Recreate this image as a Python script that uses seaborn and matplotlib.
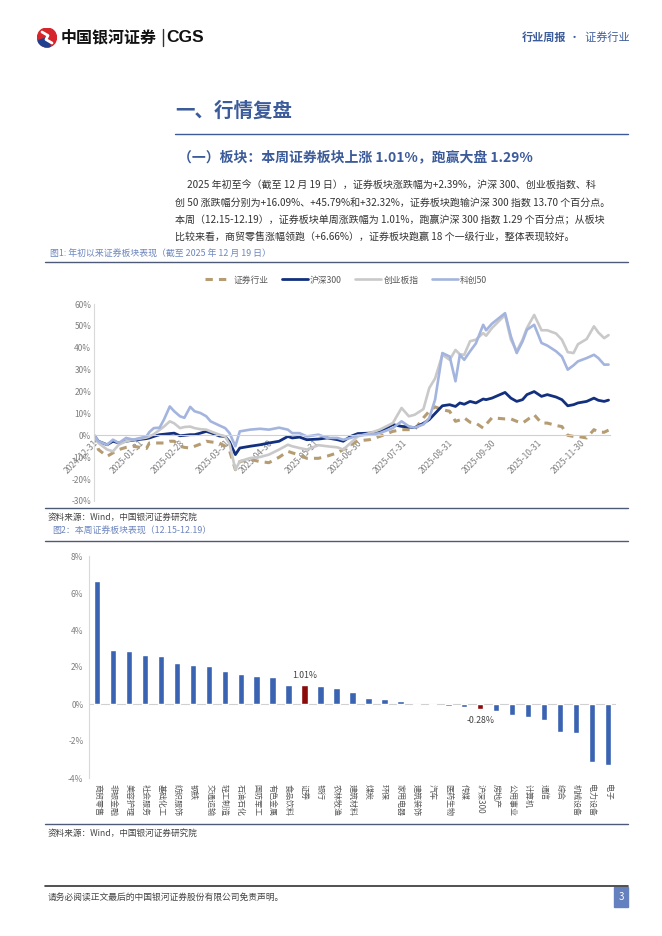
import pandas as pd
import seaborn as sns
import matplotlib.pyplot as plt
from matplotlib.lines import Line2D
from matplotlib.patches import Rectangle, Circle, Wedge

W, H = 662, 936

# ---- figure 1 data: cumulative change since 2024-12-31 (%) ----
dates = ["2024-12-31", "2025-01-03", "2025-01-09", "2025-01-13", "2025-01-17", "2025-01-22",
         "2025-01-27", "2025-02-05", "2025-02-07", "2025-02-10", "2025-02-14", "2025-02-17",
         "2025-02-21", "2025-02-24", "2025-02-28", "2025-03-03", "2025-03-07", "2025-03-10",
         "2025-03-14", "2025-03-18", "2025-03-21", "2025-03-27", "2025-03-31", "2025-04-03",
         "2025-04-07", "2025-04-10", "2025-04-17", "2025-04-24", "2025-04-30", "2025-05-07",
         "2025-05-13", "2025-05-16", "2025-05-21", "2025-05-26", "2025-06-03", "2025-06-09",
         "2025-06-16", "2025-06-20", "2025-06-25", "2025-06-30", "2025-07-08", "2025-07-15",
         "2025-07-24", "2025-07-30", "2025-08-04", "2025-08-08", "2025-08-14", "2025-08-18",
         "2025-08-22", "2025-08-27", "2025-09-01", "2025-09-05", "2025-09-08", "2025-09-11",
         "2025-09-15", "2025-09-19", "2025-09-24", "2025-09-26", "2025-09-30", "2025-10-09",
         "2025-10-13", "2025-10-17", "2025-10-21", "2025-10-24", "2025-10-29", "2025-11-03",
         "2025-11-07", "2025-11-13", "2025-11-17", "2025-11-21", "2025-11-25", "2025-11-28",
         "2025-12-04", "2025-12-09", "2025-12-12", "2025-12-16", "2025-12-19"]

sec = [0, -6.5, -9.6, -8.0, -6.5, -5.5, -5.0, -6.0, -3.5, -3.5, -3.5, -3.5, -2.7, -2.7, -5.0,
       -5.5, -5.8, -5.0, -4.0, -2.7, -3.0, -3.5, -5.0, -7.0, -15.7, -12.0, -11.0, -12.0, -12.5,
       -10.0, -7.3, -8.0, -9.0, -10.5, -10.5, -9.5, -8.0, -6.5, -4.5, -2.5, -2.0, -0.5, 1.8,
       2.6, 2.6, 2.6, 8.0, 11.0, 13.0, 11.7, 11.0, 6.4, 7.0, 8.0, 6.0, 5.6, 3.3, 5.0, 8.0, 7.5,
       7.5, 6.4, 5.6, 7.0, 9.4, 5.6, 5.6, 4.5, 4.0, 0.0, -0.5, -0.5, -1.2, 2.6, 1.5, 1.4, 2.39]

hs300 = [0, -2.7, -4.3, -2.7, -3.5, -2.7, -2.2, -1.5, -1.2, -0.5, 0.3, 0.5, 0.8, 1.0, -0.2,
         0.0, 0.3, 0.3, 1.0, 1.8, 1.2, -0.3, -0.5, -3.0, -8.8, -5.8, -5.0, -4.3, -3.5, -2.7,
         -0.5, -1.2, -0.8, -2.0, -1.7, -1.2, -2.0, -2.7, -0.5, 0.8, 1.0, 1.8, 4.9, 4.1, 3.8,
         3.5, 5.5, 7.2, 10.0, 13.5, 14.0, 13.2, 14.8, 14.2, 15.5, 14.8, 16.6, 16.3, 17.0, 19.6,
         17.0, 15.5, 16.3, 18.6, 20.0, 17.8, 18.6, 17.5, 16.3, 13.5, 14.0, 14.8, 15.5, 17.0,
         16.0, 15.5, 16.09]

cyb = [0, -3.5, -6.5, -7.3, -4.3, -2.7, -2.0, -1.0, -0.5, 0.5, 2.5, 4.0, 6.4, 5.5, 3.3, 3.8,
       4.0, 3.3, 2.8, 2.6, 1.8, 0.3, -0.5, -4.0, -15.7, -11.9, -10.4, -9.9, -8.8, -6.5, -4.3,
       -5.0, -5.8, -6.5, -4.5, -5.0, -5.5, -6.5, -3.5, -0.5, 1.0, 2.6, 5.6, 12.5, 8.7, 9.4,
       12.0, 21.6, 26.0, 36.8, 34.5, 39.0, 37.0, 36.8, 43.0, 43.7, 46.7, 45.5, 49.0, 55.0,
       43.7, 38.4, 43.7, 49.0, 55.0, 48.0, 48.0, 46.5, 43.7, 38.0, 37.6, 41.6, 44.0, 49.8,
       47.0, 44.4, 45.79]

kc50 = [0, -2.7, -4.3, -2.0, -3.5, -1.2, -2.0, -0.5, 1.5, 3.3, 3.5, 7.2, 13.2, 11.0, 8.7,
        8.0, 13.0, 11.0, 10.2, 8.7, 6.4, 4.5, 3.3, 1.0, -5.0, 1.8, 2.6, 3.0, 2.6, 3.5, 2.6,
        1.0, 1.0, -0.5, 0.3, -1.2, -1.2, -2.0, -1.2, 0.0, 0.3, 1.0, 3.3, 6.4, 4.1, 3.5, 5.0,
        7.9, 16.3, 37.6, 36.0, 24.7, 36.8, 34.5, 38.4, 42.0, 50.5, 48.0, 51.0, 55.8, 45.2,
        37.6, 42.9, 48.2, 50.5, 42.2, 41.0, 38.4, 36.0, 30.0, 32.0, 33.8, 35.3, 36.8, 35.3,
        32.3, 32.32]

series_names = ["证券行业", "沪深300", "创业板指", "科创50"]
month_ticks = ["2024-12-31", "2025-01-31", "2025-02-28", "2025-03-31", "2025-04-30",
               "2025-05-31", "2025-06-30", "2025-07-31", "2025-08-31", "2025-09-30",
               "2025-10-31", "2025-11-30"]

# ---- figure 2 data: weekly change 12.15-12.19 (%) ----
industries = ["商贸零售", "非银金融", "美容护理", "社会服务", "基础化工", "纺织服饰", "钢铁",
              "交通运输", "轻工制造", "石油石化", "国防军工", "有色金属", "食品饮料", "证券",
              "银行", "农林牧渔", "建筑材料", "煤炭", "环保", "家用电器", "建筑装饰", "汽车",
              "医药生物", "传媒", "沪深300", "房地产", "公用事业", "计算机", "通信", "综合",
              "机械设备", "电力设备", "电子"]
weekly_chg = [6.66, 2.90, 2.87, 2.66, 2.59, 2.20, 2.11, 2.04, 1.80, 1.60, 1.53, 1.46, 1.04,
              1.01, 1.00, 0.86, 0.65, 0.32, 0.25, 0.16, -0.05, -0.05, -0.10, -0.14, -0.28,
              -0.40, -0.58, -0.68, -0.88, -1.53, -1.57, -3.13, -3.28]

sns.set_style("white")
plt.rcParams['font.family'] = ['Noto Sans CJK SC', 'DejaVu Sans']

BLUE_T = "#3c5b9a"
RULE = "#4d5b78"
GRAY_T = "#7f7f7f"

fig = plt.figure(figsize=(W / 100, H / 100), dpi=100)


def fx(x):
    return x / W


def fy(y):
    return 1 - y / H


def hline(x0, x1, y, color=RULE, lw=1.0):
    fig.add_artist(Line2D([fx(x0), fx(x1)], [fy(y), fy(y)], color=color, lw=lw,
                          transform=fig.transFigure))


# ---- page header ----
logo = fig.add_axes([fx(37), fy(48), fx(20), 21 / H])
logo.set_xlim(-1, 1)
logo.set_ylim(-1, 1)
logo.set_aspect("equal")
logo.axis("off")
logo.add_patch(Circle((0, 0), 0.95, color="#d7262b"))
logo.add_patch(Wedge((0, 0), 0.95, 200, 290, color="#1f3f8f"))
logo.plot([-0.5, 0.1, -0.1, 0.5], [0.55, 0.2, -0.2, -0.55], color="white", lw=2.0)

fig.text(fx(61), fy(37), "中国银河证券", fontsize=11.5, fontweight="bold", color="#111111",
         va="center", ha="left")
fig.add_artist(Line2D([fx(163), fx(163)], [fy(29), fy(46)], color="#333333", lw=1,
                      transform=fig.transFigure))
fig.text(fx(166), fy(37.5), "CGS", fontsize=12.5, fontweight="bold", color="#111111",
         family="Liberation Sans", va="center", ha="left")
fig.text(fx(522), fy(37), "行业周报", fontsize=8, fontweight="bold", color=BLUE_T,
         va="center", ha="left")
fig.text(fx(630), fy(37), "·  证券行业", fontsize=8, color=BLUE_T, va="center", ha="right")

# ---- section title & text ----
fig.text(fx(175), fy(111), "一、行情复盘", fontsize=14, fontweight="bold", color=BLUE_T,
         va="center", ha="left")
hline(175, 628, 134, BLUE_T, 1.0)
fig.text(fx(178), fy(157), "（一）板块：本周证券板块上涨 1.01%，跑赢大盘 1.29%", fontsize=10,
         fontweight="bold", color=BLUE_T, va="center", ha="left")

para = [
    (187, 185, "2025 年初至今（截至 12 月 19 日），证券板块涨跌幅为+2.39%，沪深 300、创业板指数、科"),
    (175, 203, "创 50 涨跌幅分别为+16.09%、+45.79%和+32.32%，证券板块跑输沪深 300 指数 13.70 个百分点。"),
    (175, 220, "本周（12.15-12.19），证券板块单周涨跌幅为 1.01%，跑赢沪深 300 指数 1.29 个百分点；从板块"),
    (175, 238, "比较来看，商贸零售涨幅领跑（+6.66%），证券板块跑赢 18 个一级行业，整体表现较好。"),
]
for x, y, s in para:
    fig.text(fx(x), fy(y), s, fontsize=7.2, color="#333333", va="center", ha="left")

fig.text(fx(50), fy(254), "图1: 年初以来证券板块表现（截至 2025 年 12 月 19 日）", fontsize=6.4,
         color="#6d86bf", va="center", ha="left")
hline(45, 628, 262)

# ---- figure 1: line chart ----
df = pd.DataFrame({"date": pd.to_datetime(dates), "证券行业": sec, "沪深300": hs300,
                   "创业板指": cyb, "科创50": kc50})

ax1 = fig.add_axes([fx(94), fy(501), fx(610) - fx(94), 197 / H])
line_styles = {
    "证券行业": dict(color="#b69c72", lw=2.2, linestyle=(0, (2.4, 2.0))),
    "沪深300": dict(color="#13307f", lw=2.0, linestyle="-"),
    "创业板指": dict(color="#c9c9c9", lw=1.9, linestyle="-"),
    "科创50": dict(color="#a3b4de", lw=1.9, linestyle="-"),
}
for name in series_names:
    sns.lineplot(x=df["date"], y=df[name], ax=ax1, **line_styles[name])

# move the x axis to the zero line before styling ticks (this resets tick objects)
ax1.spines["bottom"].set_position(("data", 0))
for sp in ["top", "right"]:
    ax1.spines[sp].set_visible(False)
ax1.spines["bottom"].set_color("#d0d0d0")
ax1.spines["left"].set_color("#d9d9d9")
ax1.spines["bottom"].set_linewidth(0.8)
ax1.spines["left"].set_linewidth(0.8)

ax1.set_ylim(-30, 60)
ax1.set_xlim(pd.Timestamp("2024-12-31"), pd.Timestamp("2025-12-20"))
ax1.set_yticks(range(-30, 61, 10))
ax1.set_yticklabels([f"{v}%" for v in range(-30, 61, 10)], fontsize=6, color=GRAY_T)
ticks = pd.to_datetime(month_ticks)
ax1.set_xticks(ticks)
ax1.set_xticklabels(month_ticks, rotation=45, ha="right", rotation_mode="anchor",
                    fontsize=6.1, color=GRAY_T)
ax1.tick_params(length=0, pad=2)
ax1.set_xlabel("")
ax1.set_ylabel("")
ax1.patch.set_alpha(0)

handles = [Line2D([], [], **line_styles[n]) for n in series_names]
fig.legend(handles, series_names, loc="center", bbox_to_anchor=(fx(346), fy(280)), ncol=4,
           frameon=False, fontsize=6.3, handlelength=3.0, handletextpad=0.25,
           columnspacing=1.5, labelcolor="#595959")

hline(45, 628, 508)
fig.text(fx(48), fy(517), "资料来源：Wind，中国银河证券研究院", fontsize=6.2, color="#444444",
         va="center", ha="left")

# ---- figure 2: bar chart ----
fig.text(fx(52), fy(531), "图2：本周证券板块表现（12.15-12.19）", fontsize=6.4, color="#6d86bf",
         va="center", ha="left")
hline(45, 628, 541)

ax2 = fig.add_axes([fx(89), fy(778), fx(616) - fx(89), 222 / H])
bar_colors = ["#8b0a0a" if c in ("证券", "沪深300") else "#3a63b1" for c in industries]
sns.barplot(x=industries, y=weekly_chg, hue=industries, palette=bar_colors, width=0.4,
            legend=False, ax=ax2, saturation=1)
ax2.set_ylim(-4, 8)
ax2.set_xlim(-0.5, len(industries) - 0.5)
ax2.set_yticks(range(-4, 9, 2))
ax2.set_yticklabels([f"{v}%" for v in range(-4, 9, 2)], fontsize=6, color=GRAY_T)
ax2.set_xticks(range(len(industries)))
ax2.set_xticklabels(industries, rotation=270, fontsize=5.8, color="#595959", va="top",
                    ha="center")
ax2.axhline(0, color="#d0d0d0", lw=0.8, zorder=0)
for sp in ["top", "right", "bottom"]:
    ax2.spines[sp].set_visible(False)
ax2.spines["left"].set_color("#d9d9d9")
ax2.spines["left"].set_linewidth(0.8)
ax2.tick_params(length=0, pad=4)
ax2.patch.set_alpha(0)

i_sec = industries.index("证券")
i_hs = industries.index("沪深300")
ax2.text(i_sec, weekly_chg[i_sec] + 0.3, f"{weekly_chg[i_sec]:.2f}%", fontsize=6.3,
         color="#404040", ha="center", va="bottom")
ax2.text(i_hs, weekly_chg[i_hs] - 0.35, f"{weekly_chg[i_hs]:.2f}%", fontsize=6.3,
         color="#404040", ha="center", va="top")

hline(45, 628, 824)
fig.text(fx(48), fy(833), "资料来源：Wind，中国银河证券研究院", fontsize=6.2, color="#444444",
         va="center", ha="left")

# ---- footer ----
hline(45, 628, 886, "#333333", 1.2)
fig.text(fx(48), fy(897), "请务必阅读正文最后的中国银河证券股份有限公司免责声明。", fontsize=6.3,
         color="#444444", va="center", ha="left")
fig.add_artist(Rectangle((fx(614), fy(907)), fx(14), 20 / H, color="#6580bf",
                         transform=fig.transFigure))
fig.text(fx(621), fy(897), "3", fontsize=7, color="white", va="center", ha="center")

fig.savefig("out.png", dpi=100)
